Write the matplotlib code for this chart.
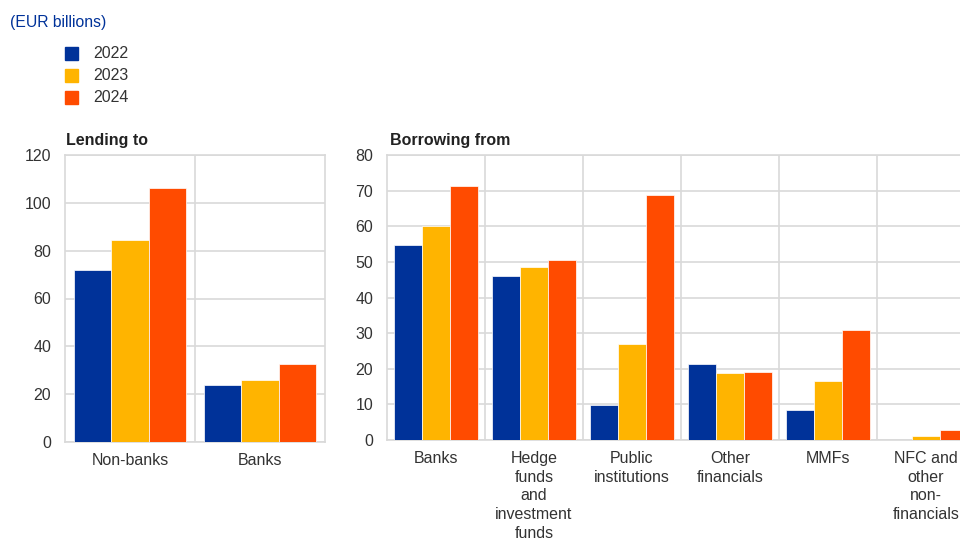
import matplotlib
matplotlib.use("Agg")
import matplotlib.pyplot as plt
import numpy as np

plt.rcParams['font.family'] = ['Liberation Sans', 'DejaVu Sans']

years = ["2022", "2023", "2024"]
colors = ["#003299", "#FFB400", "#FF4B00"]

lend_cats = ["Non-banks", "Banks"]
lend_2022 = [72.0, 24.0]
lend_2023 = [84.5, 26.0]
lend_2024 = [106.0, 32.6]

borr_cats = ["Banks", "Hedge\nfunds\nand\ninvestment\nfunds", "Public\ninstitutions",
             "Other\nfinancials", "MMFs", "NFC and\nother\nnon-\nfinancials"]
borr_2022 = [54.7, 46.0, 9.8, 21.3, 8.4, 0.0]
borr_2023 = [60.0, 48.6, 27.0, 18.8, 16.6, 1.2]
borr_2024 = [71.3, 50.5, 68.8, 19.1, 30.9, 2.9]

W, H = 960, 538
fig = plt.figure(figsize=(W/100, H/100), dpi=100)

grid_c = "#D9D9D9"
txt_c = "#333333"
FS = 11.5

def panel(rect, cats, series, ymax, ystep, title):
    ax = fig.add_axes(rect)
    n = len(cats)
    x = np.arange(n)
    bw = 0.285
    for i, (vals, c) in enumerate(zip(series, colors)):
        ax.bar(x + (i - 1) * bw, vals, width=bw, color=c, edgecolor="white", linewidth=0.5, zorder=3)
    ax.set_xlim(-0.5, n - 0.5)
    ax.set_ylim(0, ymax)
    ax.set_yticks(np.arange(0, ymax + 0.1, ystep))
    ax.yaxis.grid(True, color=grid_c, linewidth=1.2, zorder=0)
    for k in range(1, n):
        ax.axvline(k - 0.5, color=grid_c, linewidth=1.2, zorder=0)
    for s in ax.spines.values():
        s.set_color(grid_c)
        s.set_linewidth(1.2)
    ax.set_xticks(x)
    ax.set_xticklabels(cats, fontsize=FS, color=txt_c, linespacing=1.3, va="top", ha="center")
    ax.tick_params(axis="both", length=0, labelsize=FS, colors=txt_c)
    ax.tick_params(axis="x", pad=8)
    ax.tick_params(axis="y", pad=10)
    ax.set_title(title, loc="left", fontsize=FS, fontweight="bold", color="#222222", pad=7, x=0.005)
    return ax

# left panel: x 65..325, y 155..442
panel([65/W, 1 - 442/H, 260/W, 287/H], lend_cats, [lend_2022, lend_2023, lend_2024], 120, 20, "Lending to")
# right panel: x 387..975, y 155..440
panel([387/W, 1 - 440/H, 588/W, 285/H], borr_cats, [borr_2022, borr_2023, borr_2024], 80, 10, "Borrowing from")

fig.text(10/W, 1 - 22/H, "(EUR billions)", fontsize=11.3, color="#003299", va="center", ha="left")

for i, (yr, c) in enumerate(zip(years, colors)):
    yc = 54 + i * 22
    fig.patches.append(matplotlib.patches.Rectangle((65/W, 1 - (yc + 6)/H), 13/W, 13/H,
                                                    transform=fig.transFigure, color=c, figure=fig))
    fig.text(93/W, 1 - yc/H, yr, fontsize=FS, color=txt_c, va="center", ha="left")

fig.savefig("out.png", dpi=100)
